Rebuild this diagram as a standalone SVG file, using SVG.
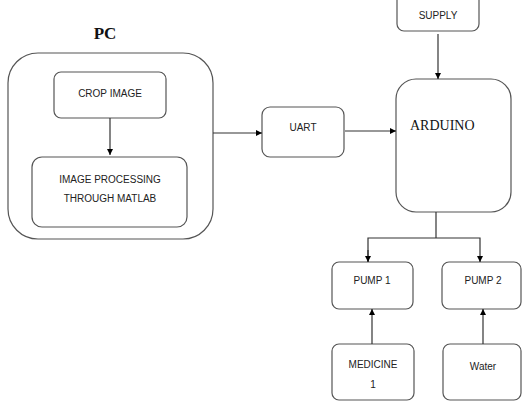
<svg xmlns="http://www.w3.org/2000/svg" width="522" height="401" viewBox="0 0 522 401">
<style>
.box{fill:#fff;stroke:#555;stroke-width:1.2}
.t{font-family:"Liberation Sans",Arial,sans-serif;font-size:10px;fill:#222;text-anchor:middle}
.c{fill:none;stroke:#333;stroke-width:1.2}
</style>
<defs>
<marker id="ah" viewBox="0 0 10 10" refX="10" refY="5" markerWidth="6" markerHeight="6" orient="auto" markerUnits="userSpaceOnUse">
<path d="M0,0 L10,5 L0,10 z" fill="#000"/>
</marker>
</defs>
<rect width="522" height="401" fill="#fff"/>
<g id="pc">
<text x="105" y="39" font-family="Liberation Serif,serif" font-weight="bold" font-size="17" text-anchor="middle" fill="#111">PC</text>
<rect class="box" x="8" y="53" width="205" height="186" rx="30"/>
</g>
<g id="crop">
<rect class="box" x="54" y="72" width="112" height="46" rx="7"/>
<text class="t" x="110" y="97">CROP IMAGE</text>
</g>
<g id="imgproc">
<rect class="box" x="32" y="157" width="155" height="70" rx="10"/>
<text class="t" x="110" y="183">IMAGE PROCESSING</text>
<text class="t" x="110" y="202">THROUGH MATLAB</text>
</g>
<g id="uart">
<rect class="box" x="262" y="107" width="82" height="50" rx="8"/>
<text class="t" x="303" y="131">UART</text>
</g>
<g id="arduino">
<rect class="box" x="396" y="79" width="115" height="133" rx="20"/>
<text x="410" y="130" font-family="Liberation Serif,serif" font-size="14" fill="#111">ARDUINO</text>
</g>
<g id="supply">
<rect class="box" x="397" y="-20" width="82" height="51" rx="7"/>
<text class="t" x="438" y="19">SUPPLY</text>
</g>
<g id="pump1">
<rect class="box" x="332" y="262" width="81" height="47" rx="7"/>
<text class="t" x="372" y="284">PUMP 1</text>
</g>
<g id="pump2">
<rect class="box" x="442" y="262" width="79" height="47" rx="7"/>
<text class="t" x="483" y="284">PUMP 2</text>
</g>
<g id="medicine">
<rect class="box" x="332" y="344" width="82" height="56" rx="7"/>
<text class="t" x="373" y="368">MEDICINE</text>
<text class="t" x="373" y="388">1</text>
</g>
<g id="water">
<rect class="box" x="443" y="344" width="78" height="56" rx="7"/>
<text class="t" x="483" y="370">Water</text>
</g>
<g id="connectors">
<line class="c" x1="110" y1="118" x2="110" y2="155" marker-end="url(#ah)"/>
<line class="c" x1="213" y1="133" x2="262" y2="133" marker-end="url(#ah)"/>
<line class="c" x1="345" y1="131" x2="396" y2="131" marker-end="url(#ah)"/>
<line class="c" x1="438" y1="34" x2="438" y2="79" marker-end="url(#ah)"/>
<polyline class="c" points="436,212 436,238"/>
<polyline class="c" points="368,262 368,238 480,238 480,262" marker-end="url(#ah)"/>
<line class="c" x1="368" y1="250" x2="368" y2="262" marker-end="url(#ah)"/>
<line class="c" x1="372" y1="344" x2="372" y2="309" marker-end="url(#ah)"/>
<line class="c" x1="483" y1="344" x2="483" y2="309" marker-end="url(#ah)"/>
</g>
</svg>
